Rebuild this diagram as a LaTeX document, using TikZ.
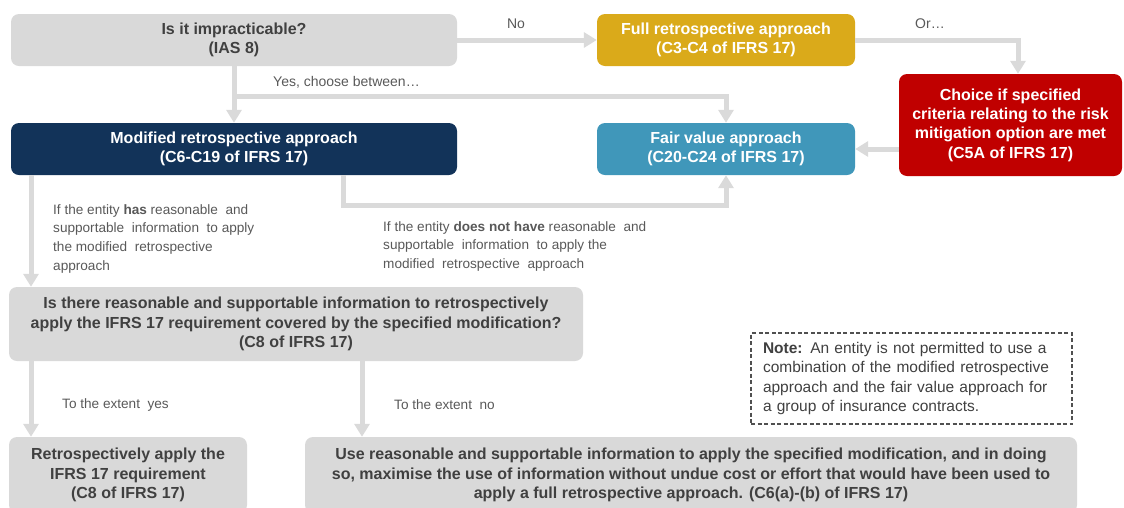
\documentclass[tikz,border=0pt]{standalone}
\usepackage{fontspec}
\setmainfont{Liberation Sans}
\usetikzlibrary{arrows.meta,calc}
\definecolor{boxgray}{RGB}{217,217,217}
\definecolor{linegray}{RGB}{218,218,218}
\definecolor{txtgray}{RGB}{64,64,64}
\definecolor{lblgray}{RGB}{89,89,89}
\definecolor{notegray}{RGB}{80,80,80}
\definecolor{gold}{RGB}{218,170,26}
\definecolor{navy}{RGB}{18,51,89}
\definecolor{fairblue}{RGB}{64,151,186}
\definecolor{redbox}{RGB}{192,0,0}
\tikzset{
  box/.style={rounded corners=8pt, draw=none, align=center, inner sep=0pt,
    font=\fontsize{16}{19.3}\selectfont\bfseries},
  graybox/.style={box, fill=boxgray, text=txtgray},
  colbox/.style={box, text=white},
  conn/.style={draw=linegray, line width=5pt, -{Triangle[width=15pt,length=13pt]}},
  lbl/.style={text=lblgray, inner sep=0pt, align=left,
    font=\fontsize{13.6}{18.8}\selectfont},
  toplbl/.style={text=lblgray, inner sep=0pt, font=\fontsize{14}{17}\selectfont},
  notebox/.style={draw=notegray, line width=1.2pt, dash pattern=on 4pt off 2.5pt,
    inner xsep=12pt, inner ysep=0pt, text width=297pt, align=left, text=txtgray,
    font=\fontsize{15.5}{19.3}\selectfont}
}
\begin{document}
\begin{tikzpicture}[x=1pt,y=-1pt]
\useasboundingbox (0,0) rectangle (1124,507);
\clip (0,0) rectangle (1124,507);
% boxes
\node[graybox, minimum width=446pt, minimum height=52pt] (q1) at (234,40) {Is it impracticable?\\(IAS 8)};
\node[colbox, fill=gold, minimum width=258pt, minimum height=52pt] (full) at (726,40) {Full retrospective approach\\(C3-C4 of IFRS 17)};
\node[colbox, fill=redbox, minimum width=223pt, minimum height=102pt] (red) at (1010.5,125) {Choice if specified\\criteria relating to the risk\\mitigation option are met\\(C5A of IFRS 17)};
\node[colbox, fill=navy, minimum width=446pt, minimum height=52pt] (mod) at (234,149) {Modified retrospective approach\\(C6-C19 of IFRS 17)};
\node[colbox, fill=fairblue, minimum width=258pt, minimum height=52pt] (fair) at (726,149) {Fair value approach\\(C20-C24 of IFRS 17)};
\node[graybox, minimum width=574pt, minimum height=74pt] (q2) at (296,324) {Is there reasonable and supportable information to retrospectively\\apply the IFRS 17 requirement covered by the specified modification?\\(C8 of IFRS 17)};
\node[graybox, minimum width=238pt, minimum height=76pt] (retro) at (128,475) {Retrospectively apply the\\IFRS 17 requirement\\(C8 of IFRS 17)};
\node[graybox, minimum width=772pt, minimum height=76pt] (use) at (691,475) {Use reasonable and supportable information to apply the specified modification, and in doing\\so, maximise the use of information without undue cost or effort that would have been used to\\apply a full retrospective approach. (C6(a)-(b) of IFRS 17)};
\node[notebox, minimum height=91pt] (note) at (911.5,378.5) {\textbf{Note:} An entity is not permitted to use a\\combination of the modified retrospective\\approach and the fair value approach for\\a group of insurance contracts.};
% helper coordinates
\coordinate (orturn) at (1018,40);
\coordinate (yb) at (234,96);
\coordinate (ma) at (343,175);
\coordinate (mb) at (343,205);
\coordinate (xl) at (31,0);
\coordinate (xn) at (362,0);
% connectors
\draw[conn] (q1.east) -- (full.west);
\draw[conn] (full.east) -- (orturn) -- (orturn |- red.north);
\draw[conn] (q1.south) -- (mod.north);
\draw[conn] (yb) -| (fair.north);
\draw[conn] (ma) -- (mb) -| (fair.south);
\draw[conn] (red.west |- fair.east) -- (fair.east);
\draw[conn] (mod.south -| xl) -- (xl |- q2.north);
\draw[conn] (q2.south -| xl) -- (xl |- retro.north);
\draw[conn] (q2.south -| xn) -- (xn |- use.north);
% labels
\node[toplbl] (no) at (516,24) {No};
\node[toplbl] (or) at (930,24) {Or\dots};
\node[toplbl, anchor=west] (yes) at (273,82) {Yes, choose between\dots};
\node[lbl, anchor=north west] (has) at (53,204) {If the entity \textbf{has} reasonable\ \ and\\supportable\ \ information\ \ to apply\\the modified\ \ retrospective\\approach};
\node[lbl, anchor=north west] (hasnot) at (383,221) {If the entity \textbf{does not have} reasonable\ \ and\\supportable\ \ information\ \ to apply the\\modified\ \ retrospective\ \ approach};
\node[lbl, anchor=west] (eyes) at (62,405) {To the extent\ \ yes};
\node[lbl, anchor=west] (eno) at (394,405) {To the extent\ \ no};
\end{tikzpicture}
\end{document}
